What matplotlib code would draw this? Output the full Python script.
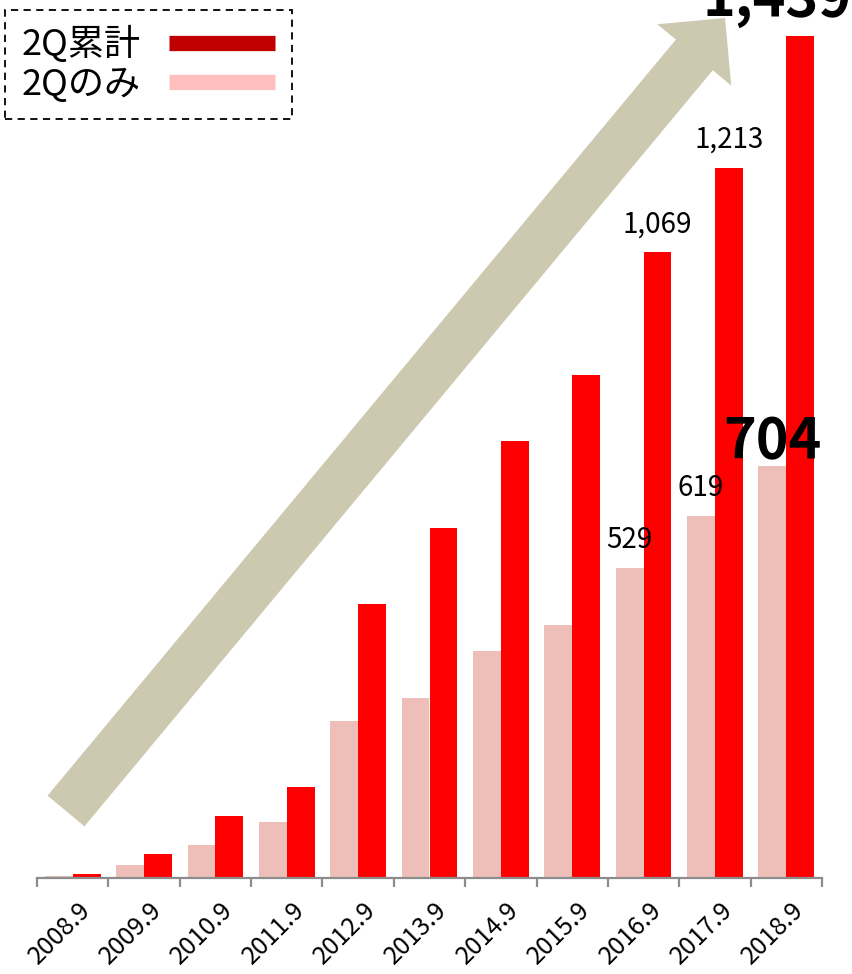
import numpy as np
import matplotlib
matplotlib.use("Agg")
import matplotlib.pyplot as plt
from matplotlib.lines import Line2D
from matplotlib.patches import Polygon
from matplotlib.transforms import ScaledTranslation

plt.rcParams['font.family'] = ['Noto Sans CJK JP', 'DejaVu Sans']

# Data
periods = ["2008.9", "2009.9", "2010.9", "2011.9", "2012.9", "2013.9",
           "2014.9", "2015.9", "2016.9", "2017.9", "2018.9"]
q2_cumulative = [6, 41, 106, 155, 468, 598, 747, 859, 1069, 1213, 1439]
q2_only = [4, 22, 56, 96, 268, 308, 388, 432, 529, 619, 704]
series_names = ["2Q累計", "2Qのみ"]

W, H = 852, 974
fig = plt.figure(figsize=(W / 100, H / 100), dpi=100)
ax = fig.add_axes([37 / W, 1 - 878 / H, (822 - 37) / W, 878 / H])

x = np.arange(len(periods))
bw = 0.39
red = "#FF0000"
pink = "#EEBFB9"
ax.bar(x - bw / 2, q2_only, width=bw, color=pink, zorder=2)
ax.bar(x + bw / 2, q2_cumulative, width=bw, color=red, zorder=2)

ax.set_xlim(-0.5, len(periods) - 0.5)
ax.set_ylim(0, 1500)

for s in ["top", "right", "left"]:
    ax.spines[s].set_visible(False)
ax.spines["bottom"].set_color("#8C8C8C")
ax.spines["bottom"].set_linewidth(1.6)
ax.set_yticks([])

ax.set_xticks(x)
ax.set_xticklabels(periods, rotation=45, ha="right", va="center",
                   rotation_mode="anchor", fontsize=18)
ax.tick_params(axis="x", which="major", length=0, pad=20)
shift = ScaledTranslation(14 / 100, 0, fig.dpi_scale_trans)
for lbl in ax.get_xticklabels():
    lbl.set_transform(lbl.get_transform() + shift)
ax.set_xticks(np.arange(-0.5, len(periods)), minor=True)
ax.tick_params(axis="x", which="minor", length=6.5, width=1.6,
               color="#8C8C8C", direction="out")

# Value labels for the latest three periods
label_fs = 20
big_fs = 40
for i in [8, 9]:
    ax.annotate(f"{q2_cumulative[i]:,}", (x[i] + bw / 2, q2_cumulative[i]),
                xytext=(0, 14.4), textcoords="offset points",
                ha="center", va="baseline", fontsize=label_fs)
    ax.annotate(f"{q2_only[i]:,}", (x[i] - bw / 2, q2_only[i]),
                xytext=(0, 14.4), textcoords="offset points",
                ha="center", va="baseline", fontsize=label_fs)
ax.annotate(f"{q2_cumulative[10]:,}", (x[10] + bw / 2, q2_cumulative[10]),
            xytext=(-17, 14.4), textcoords="offset points",
            ha="center", va="baseline", fontsize=big_fs, fontweight="bold",
            annotation_clip=False)
ax.annotate(f"{q2_only[10]:,}", (x[10] - bw / 2, q2_only[10]),
            xytext=(0, 5.8), textcoords="offset points",
            ha="center", va="baseline", fontsize=big_fs, fontweight="bold",
            zorder=5)

# Growth arrow (pixel geometry converted to figure fraction)
tail = np.array([66.0, 811.0])
tip = np.array([725.0, 18.0])
shaft_w, head_w, head_l = 48.0, 96.0, 48.0
u = (tip - tail) / np.linalg.norm(tip - tail)
n = np.array([-u[1], u[0]])
neck = tip - u * head_l
pts = [tail + n * shaft_w / 2, neck + n * shaft_w / 2, neck + n * head_w / 2,
       tip, neck - n * head_w / 2, neck - n * shaft_w / 2, tail - n * shaft_w / 2]
pts = [(p[0] / W, 1 - p[1] / H) for p in pts]
fig.patches.append(Polygon(pts, closed=True, facecolor="#CDC9B0",
                           edgecolor="none", transform=fig.transFigure,
                           zorder=3))

# Legend
handles = [Line2D([], [], color="#C00000", lw=11, solid_capstyle="butt"),
           Line2D([], [], color="#FFBFBF", lw=11, solid_capstyle="butt")]
leg = fig.legend(handles, series_names, loc="upper left",
                 bbox_to_anchor=(5 / W, 1 - 10 / H), fontsize=26,
                 markerfirst=False, handlelength=2.94, handletextpad=0.8,
                 labelspacing=0.1, borderpad=0.45, borderaxespad=0,
                 fancybox=False, framealpha=1)
frame = leg.get_frame()
frame.set_edgecolor("black")
frame.set_linestyle((0, (4, 3)))
frame.set_linewidth(1.3)

fig.savefig("out.png", dpi=100)
